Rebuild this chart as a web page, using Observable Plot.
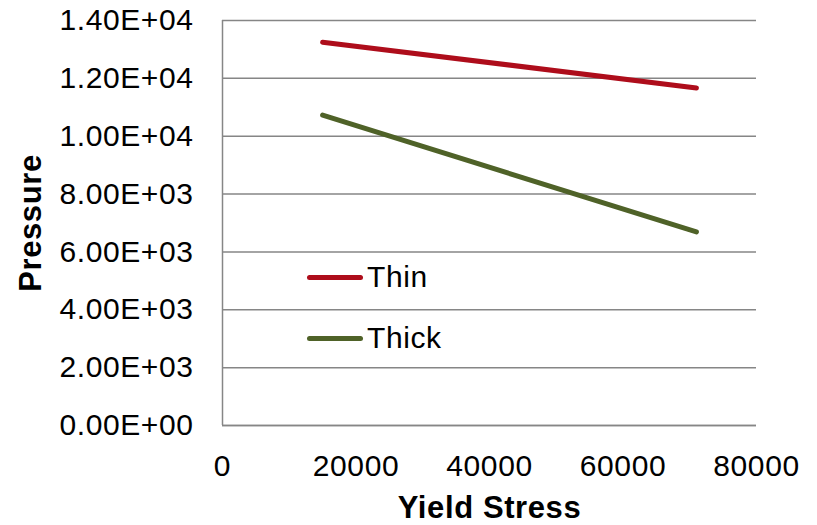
<!DOCTYPE html>
<html>
<head>
<meta charset="utf-8">
<script src="https://cdn.jsdelivr.net/npm/d3@7"></script>
<script src="https://cdn.jsdelivr.net/npm/@observablehq/plot@0.6"></script>
<style>
  html, body { margin: 0; padding: 0; background: #fff; }
  #chart { position: relative; width: 817px; height: 525px; font-family: "Liberation Sans", Arial, sans-serif; }
  .item { position: absolute; left: 307px; display: flex; align-items: center; height: 40px; font-size: 30px; letter-spacing: 0.6px; color: #000; }
  .swatch { width: 56px; height: 5px; border-radius: 3px; margin-right: 4px; }
</style>
</head>
<body>
<div id="chart"></div>
<script>
// Yield stress (x) and the resulting pressure for the two wall cases
const yieldStress = [15000, 71000];
const thinPressure = [13250, 11670];
const thickPressure = [10730, 6690];

const seriesNames = ["Thin", "Thick"];
const seriesColors = ["#AE0D1B", "#4F6228"];

const xTicks = [0, 20000, 40000, 60000, 80000];
const yTicks = [0, 2000, 4000, 6000, 8000, 10000, 12000, 14000];

// Excel-style scientific notation, e.g. 1.40E+04
function sci(v) {
  if (v === 0) return "0.00E+00";
  const e = Math.floor(Math.log10(Math.abs(v)));
  const m = v / Math.pow(10, e);
  return m.toFixed(2) + "E" + (e < 0 ? "-" : "+") + String(Math.abs(e)).padStart(2, "0");
}

const rows = [];
yieldStress.forEach((x, i) => {
  rows.push({series: "Thin", x, y: thinPressure[i]});
  rows.push({series: "Thick", x, y: thickPressure[i]});
});

const grid = "#868686";

const plot = Plot.plot({
  width: 817,
  height: 525,
  marginLeft: 222,
  marginRight: 61,
  marginTop: 20,
  marginBottom: 100,
  style: {fontFamily: "'Liberation Sans', Arial, sans-serif", fontSize: "30px", color: "#000", background: "#fff", letterSpacing: "0.6px"},
  x: {domain: [0, 80000]},
  y: {domain: [0, 14000]},
  color: {domain: seriesNames, range: seriesColors},
  marks: [
    Plot.gridY(yTicks, {stroke: grid, strokeOpacity: 1, strokeWidth: 1.5}),
    Plot.ruleX([0], {stroke: grid, strokeWidth: 1.5}),
    Plot.ruleY([0], {stroke: grid, strokeWidth: 1.5}),
    Plot.axisY(yTicks, {tickSize: 0, tickPadding: 29, tickFormat: sci, label: null, fontSize: 30}),
    Plot.axisX(xTicks, {tickSize: 0, tickPadding: 29, tickFormat: d3.format("d"), label: null, fontSize: 30}),
    Plot.text(["Pressure"], {frameAnchor: "left", textAnchor: "middle", dx: -191, rotate: -90, fontWeight: "bold", fontSize: 31}),
    Plot.text(["Yield Stress"], {frameAnchor: "bottom", dy: 92, fontWeight: "bold", fontSize: 31}),
    Plot.line(rows, {x: "x", y: "y", z: "series", stroke: "series", strokeWidth: 5, strokeLinecap: "round"})
  ]
});

const chart = document.getElementById("chart");
chart.appendChild(plot);

// legend entries sit inside the plot area, one row per series
const legendTops = [257, 318];
seriesNames.forEach((name, i) => {
  const item = document.createElement("div");
  item.className = "item";
  item.style.top = legendTops[i] + "px";
  const sw = document.createElement("span");
  sw.className = "swatch";
  sw.style.background = seriesColors[i];
  const label = document.createElement("span");
  label.textContent = name;
  item.appendChild(sw);
  item.appendChild(label);
  chart.appendChild(item);
});
</script>
</body>
</html>
